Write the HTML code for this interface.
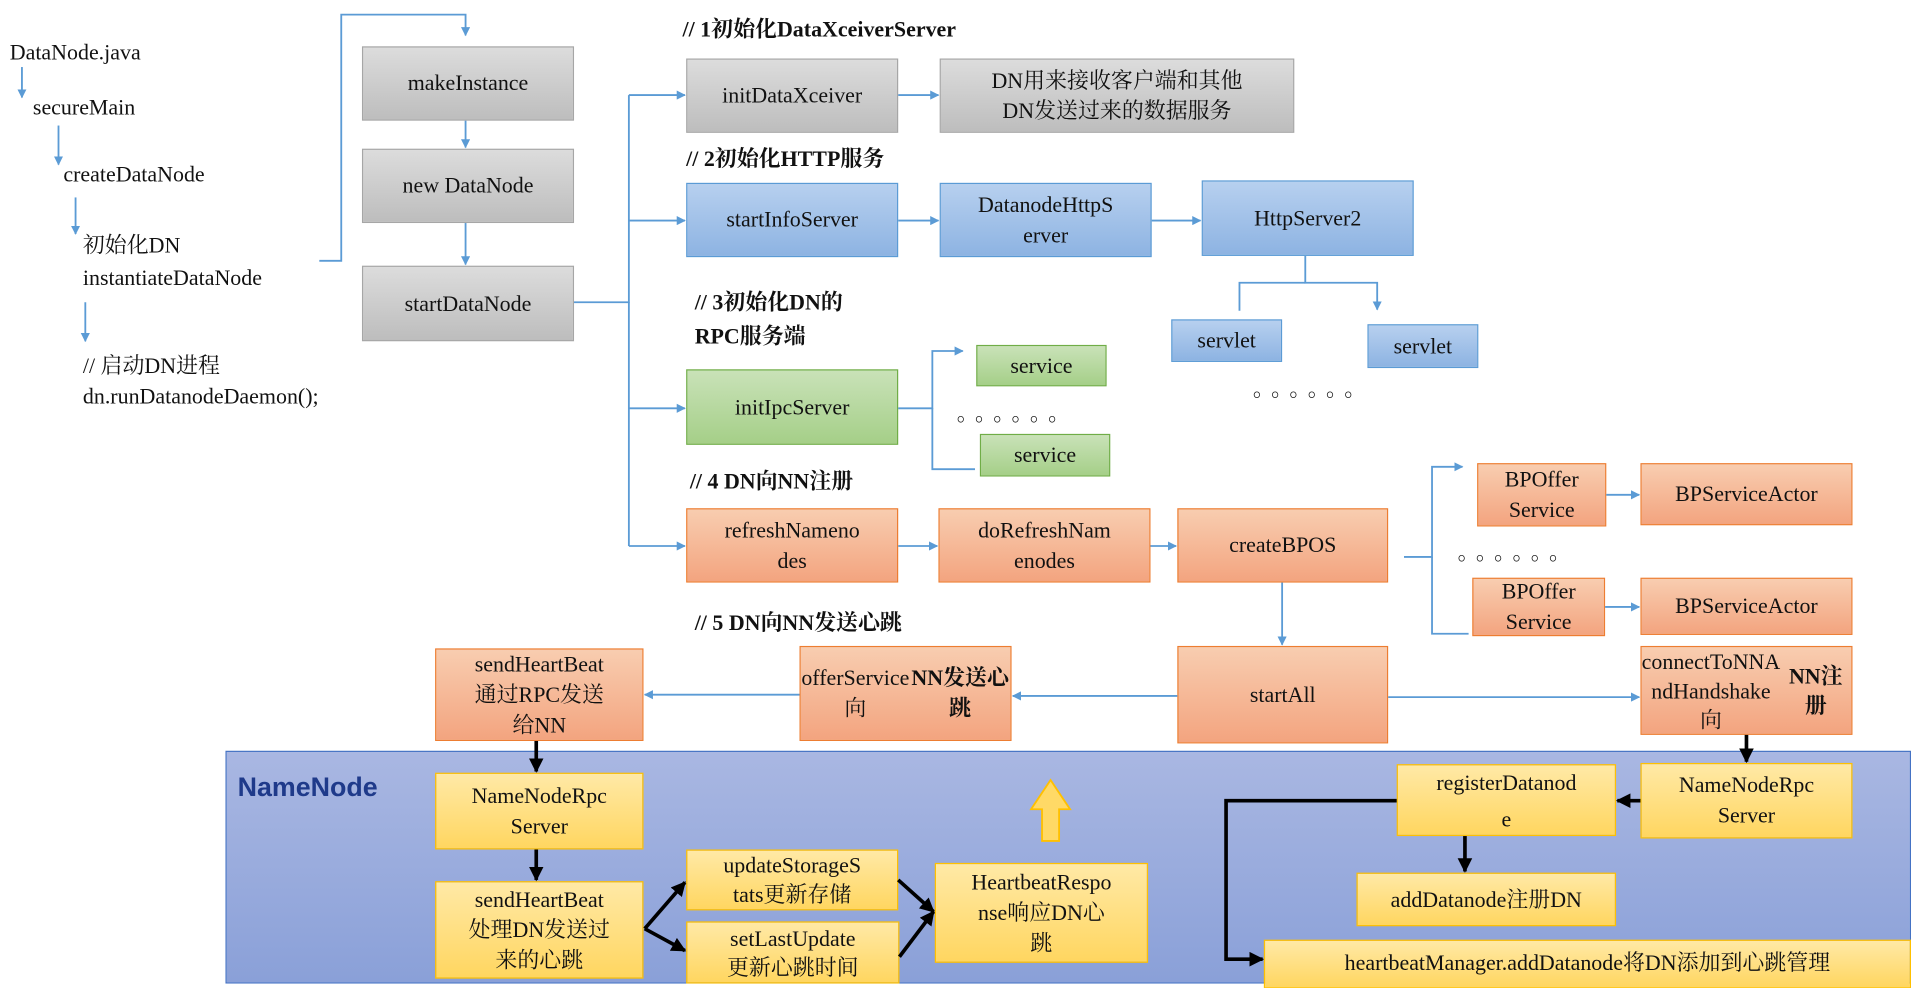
<!DOCTYPE html>
<html><head><meta charset="utf-8"><style>
html,body{margin:0;padding:0;background:#fff;overflow:hidden;width:1911px;height:983px}
#c{position:absolute;left:0;top:0;width:1568px;height:807px;transform:scale(1.21875);transform-origin:0 0;font-family:"Liberation Serif","Noto Serif CJK SC","Noto Sans CJK SC",serif;color:#111}
.t{position:absolute;font-size:18px;white-space:nowrap;line-height:26px}
.b{position:absolute;box-sizing:border-box;display:flex;align-items:center;justify-content:center;text-align:center;font-size:18px;line-height:25px}
.g{background:linear-gradient(#dcdcdc,#bdbdbd);border:1.5px solid #a6a6a6}
.bl{background:linear-gradient(#b7d0ef,#8db3e2);border:1.5px solid #5b9bd5}
.gr{background:linear-gradient(#c9e2b8,#a5cf88);border:1.5px solid #70ad47}
.o{background:linear-gradient(#f8cdb0,#f3a47f);border:1.5px solid #ed7d31}
.y{background:linear-gradient(#ffe9a6,#ffd660);border:1.5px solid #ffc000}
.h{font-weight:bold;font-size:18px}
#nn{position:absolute;left:185px;top:616px;width:1383px;height:191px;box-sizing:border-box;border:1.5px solid #4472c4;background:linear-gradient(#a9b7e2,#8aa0d8)}
</style></head><body><div id="c">
<div id="nn"></div>
<div class="t" style="left:195px;top:633px;font-family:'Liberation Sans',sans-serif;font-weight:bold;font-size:22px;color:#1f3a8a">NameNode</div>

<div class="t" style="left:8px;top:30px">DataNode.java</div>
<div class="t" style="left:27px;top:75px">secureMain</div>
<div class="t" style="left:52px;top:130px">createDataNode</div>
<div class="t" style="left:68px;top:188px">初始化DN</div>
<div class="t" style="left:68px;top:215px">instantiateDataNode</div>
<div class="t" style="left:68px;top:287px">// 启动DN进程</div>
<div class="t" style="left:68px;top:312px">dn.runDatanodeDaemon();</div>

<div class="t h" style="left:560px;top:11px">// 1初始化DataXceiverServer</div>
<div class="t h" style="left:563px;top:117px">// 2初始化HTTP服务</div>
<div class="t h" style="left:570px;top:235px">// 3初始化DN的</div>
<div class="t h" style="left:570px;top:263px">RPC服务端</div>
<div class="t h" style="left:566px;top:382px">// 4 DN向NN注册</div>
<div class="t h" style="left:570px;top:498px">// 5 DN向NN发送心跳</div>

<div class="b g" style="left:297px;top:38px;width:174px;height:61px">makeInstance</div>
<div class="b g" style="left:297px;top:122px;width:174px;height:61px">new DataNode</div>
<div class="b g" style="left:297px;top:218px;width:174px;height:62px">startDataNode</div>
<div class="b g" style="left:563px;top:48px;width:174px;height:61px">initDataXceiver</div>
<div class="b g" style="left:771px;top:48px;width:291px;height:61px">DN用来接收客户端和其他<br>DN发送过来的数据服务</div>

<div class="b bl" style="left:563px;top:150px;width:174px;height:61px">startInfoServer</div>
<div class="b bl" style="left:771px;top:150px;width:174px;height:61px">DatanodeHttpS<br>erver</div>
<div class="b bl" style="left:986px;top:148px;width:174px;height:62px">HttpServer2</div>
<div class="b bl" style="left:961px;top:262px;width:91px;height:35px">servlet</div>
<div class="b bl" style="left:1122px;top:266px;width:91px;height:36px">servlet</div>
<div class="t" style="left:1028px;top:306px;letter-spacing:6px">。。。。。。</div>

<div class="b gr" style="left:563px;top:303px;width:174px;height:62px">initIpcServer</div>
<div class="b gr" style="left:801px;top:283px;width:107px;height:34px">service</div>
<div class="b gr" style="left:804px;top:356px;width:107px;height:35px">service</div>
<div class="t" style="left:785px;top:326px;letter-spacing:6px">。。。。。。</div>

<div class="b o" style="left:563px;top:417px;width:174px;height:61px">refreshNameno<br>des</div>
<div class="b o" style="left:770px;top:417px;width:174px;height:61px">doRefreshNam<br>enodes</div>
<div class="b o" style="left:966px;top:417px;width:173px;height:61px">createBPOS</div>
<div class="b o" style="left:1212px;top:380px;width:106px;height:52px">BPOffer<br>Service</div>
<div class="b o" style="left:1346px;top:380px;width:174px;height:51px">BPServiceActor</div>
<div class="t" style="left:1196px;top:440px;letter-spacing:6px">。。。。。。</div>
<div class="b o" style="left:1208px;top:474px;width:109px;height:48px">BPOffer<br>Service</div>
<div class="b o" style="left:1346px;top:474px;width:174px;height:47px">BPServiceActor</div>

<div class="b o" style="left:966px;top:530px;width:173px;height:80px">startAll</div>
<div class="b o" style="left:656px;top:530px;width:174px;height:78px">offerService向<br><b>NN发送心跳</b></div>
<div class="b o" style="left:357px;top:532px;width:171px;height:76px">sendHeartBeat<br>通过RPC发送<br>给NN</div>
<div class="b o" style="left:1346px;top:530px;width:174px;height:73px;line-height:24px">connectToNNA<br>ndHandshake向<br><b>NN注册</b></div>

<div class="b y" style="left:357px;top:634px;width:171px;height:63px">NameNodeRpc<br>Server</div>
<div class="b y" style="left:357px;top:723px;width:171px;height:80px">sendHeartBeat<br>处理DN发送过<br>来的心跳</div>
<div class="b y" style="left:563px;top:697px;width:174px;height:50px;line-height:24px">updateStorageS<br>tats更新存储</div>
<div class="b y" style="left:563px;top:756px;width:175px;height:51px;line-height:24px">setLastUpdate<br>更新心跳时间</div>
<div class="b y" style="left:767px;top:708px;width:175px;height:82px">HeartbeatRespo<br>nse响应DN心<br>跳</div>
<div class="b y" style="left:1146px;top:627px;width:180px;height:59px;line-height:30px">registerDatanod<br>e</div>
<div class="b y" style="left:1346px;top:626px;width:174px;height:62px">NameNodeRpc<br>Server</div>
<div class="b y" style="left:1113px;top:716px;width:213px;height:44px">addDatanode注册DN</div>
<div class="b y" style="left:1037px;top:771px;width:531px;height:40px;align-items:flex-start;padding-top:6px">heartbeatManager.addDatanode将DN添加到心跳管理</div>

<svg width="1568" height="807" style="position:absolute;left:0;top:0" xmlns="http://www.w3.org/2000/svg">
<defs>
<marker id="a" viewBox="0 0 10 10" refX="9" refY="5" markerWidth="5" markerHeight="5" orient="auto"><path d="M0,0L10,5L0,10z" fill="#5b9bd5"/></marker>
<marker id="k" viewBox="0 0 10 10" refX="9" refY="5" markerWidth="4" markerHeight="4" orient="auto"><path d="M0,0L10,5L0,10z" fill="#000"/></marker>
</defs>
<g stroke="#5b9bd5" stroke-width="1.5" fill="none" marker-end="url(#a)">
<path d="M18,55V80"/><path d="M48,103V135"/><path d="M62,162V192"/><path d="M70,248V280"/>
<path d="M262,214H280V12H382V29"/>
<path d="M382,99V121"/><path d="M382,183V217"/>
<path d="M516,78H562"/><path d="M516,181H562"/><path d="M516,335H562"/><path d="M516,448H562"/>
<path d="M737,78H770"/><path d="M737,181H770"/><path d="M945,181H985"/>
<path d="M1071,210V232H1130V254"/>
<path d="M737,335H765V288H790"/>
<path d="M737,448H769"/><path d="M944,448H965"/>
<path d="M1152,457H1175V383H1200"/>
<path d="M1318,406H1345"/><path d="M1317,498H1345"/>
<path d="M1052,478V529"/>
<path d="M966,571H831"/><path d="M656,570H529"/><path d="M1139,572H1345"/>
</g>
<g stroke="#5b9bd5" stroke-width="1.5" fill="none">
<path d="M471,248H516V78"/><path d="M516,248V448"/>
<path d="M1071,232H1017V255"/>
<path d="M765,335V385H800"/>
<path d="M1175,457V520H1205"/>
</g>
<g stroke="#000" stroke-width="3" fill="none" marker-end="url(#k)">
<path d="M440,608V633"/><path d="M440,697V722"/>
<path d="M529,762L562,724"/><path d="M529,762L562,780"/>
<path d="M737,722L766,748"/><path d="M738,785L766,748"/>
<path d="M1433,603V625"/><path d="M1346,657H1327"/>
<path d="M1202,686V715"/>
<path d="M1146,657H1006V787H1036"/>
</g>
<path d="M855,690V664H846L862,640L878,664H869V690Z" fill="#ffd966" stroke="#ffc000" stroke-width="1.5"/>
</svg>
</div></body></html>
